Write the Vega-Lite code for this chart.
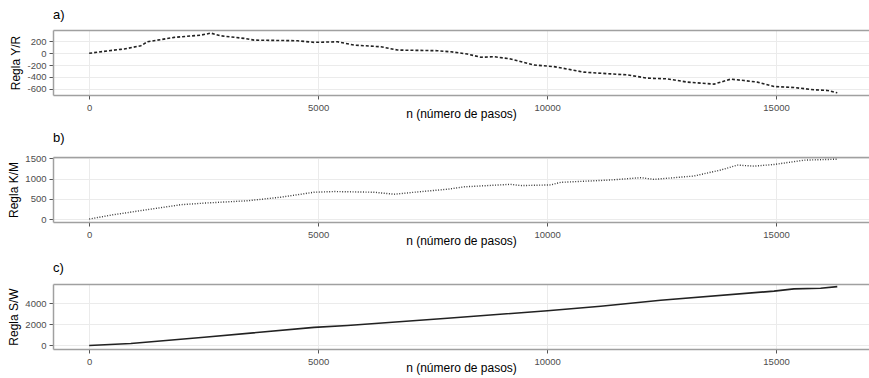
{
  "$schema": "https://vega.github.io/schema/vega-lite/v6.json",
  "padding": {"left": 7, "top": 8, "right": 0, "bottom": 2},
  "background": "white",
  "bounds": "flush",
  "spacing": 62,
  "datasets": {
    "yr": [
      {"n": 0, "value": 0}, {"n": 400, "value": 40}, {"n": 692, "value": 67}, {"n": 765, "value": 72},
      {"n": 1128, "value": 128}, {"n": 1275, "value": 195}, {"n": 1856, "value": 269}, {"n": 2438, "value": 307},
      {"n": 2657, "value": 341}, {"n": 2875, "value": 296}, {"n": 3384, "value": 252}, {"n": 3602, "value": 223},
      {"n": 4549, "value": 212}, {"n": 4912, "value": 185}, {"n": 5422, "value": 195}, {"n": 5785, "value": 139},
      {"n": 6368, "value": 111}, {"n": 6732, "value": 55}, {"n": 7606, "value": 44}, {"n": 7900, "value": 25},
      {"n": 8260, "value": -12}, {"n": 8551, "value": -67}, {"n": 8842, "value": -57}, {"n": 9206, "value": -96},
      {"n": 9715, "value": -197}, {"n": 10151, "value": -225}, {"n": 10806, "value": -319}, {"n": 11389, "value": -348},
      {"n": 11753, "value": -365}, {"n": 12190, "value": -420}, {"n": 12627, "value": -432}, {"n": 13063, "value": -487},
      {"n": 13645, "value": -521}, {"n": 14009, "value": -437}, {"n": 14300, "value": -460}, {"n": 14591, "value": -487},
      {"n": 14955, "value": -561}, {"n": 15391, "value": -578}, {"n": 15828, "value": -617}, {"n": 16119, "value": -628},
      {"n": 16337, "value": -667}
    ],
    "km": [
      {"n": 0, "value": 5}, {"n": 546, "value": 115}, {"n": 1275, "value": 237}, {"n": 2002, "value": 359},
      {"n": 2511, "value": 398}, {"n": 3458, "value": 456}, {"n": 4185, "value": 544}, {"n": 4912, "value": 666},
      {"n": 5348, "value": 683}, {"n": 6221, "value": 666}, {"n": 6658, "value": 617}, {"n": 7095, "value": 666},
      {"n": 7823, "value": 740}, {"n": 8200, "value": 800}, {"n": 9206, "value": 861}, {"n": 9424, "value": 830},
      {"n": 10079, "value": 847}, {"n": 10297, "value": 910}, {"n": 11389, "value": 968}, {"n": 12044, "value": 1025},
      {"n": 12334, "value": 983}, {"n": 13207, "value": 1066}, {"n": 13790, "value": 1213}, {"n": 14154, "value": 1335},
      {"n": 14518, "value": 1310}, {"n": 14955, "value": 1350}, {"n": 15610, "value": 1457}, {"n": 16337, "value": 1481}
    ],
    "sw": [
      {"n": 0, "value": 0}, {"n": 910, "value": 185}, {"n": 2511, "value": 778}, {"n": 4912, "value": 1704},
      {"n": 5641, "value": 1889}, {"n": 7823, "value": 2565}, {"n": 8114, "value": 2660}, {"n": 10007, "value": 3278},
      {"n": 11170, "value": 3704}, {"n": 12480, "value": 4260}, {"n": 14955, "value": 5130}, {"n": 15391, "value": 5343},
      {"n": 15973, "value": 5400}, {"n": 16337, "value": 5556}
    ]
  },
  "config": {
    "font": "Liberation Sans",
    "view": {"stroke": null},
    "title": {"anchor": "start", "frame": "group", "fontSize": 13, "fontWeight": "normal", "color": "#000", "offset": 8},
    "axis": {
      "gridColor": "#ebebeb", "gridWidth": 1,
      "domainColor": "#a0a0a0", "domainWidth": 1.5,
      "tickColor": "#555", "tickSize": 4,
      "labelFontSize": 9.5, "labelColor": "#4d4d4d", "labelPadding": 3,
      "titleFontSize": 12, "titleFontWeight": "normal", "titleColor": "#000"
    },
    "axisX": {"labelPadding": 3, "titlePadding": -3}
  },
  "vconcat": [
    {
      "width": 816, "height": 65,
      "title": {"text": "a)"},
      "data": {"name": "yr"},
      "layer": [
        {
          "mark": {"type": "line", "color": "#222", "strokeWidth": 1.6, "strokeDash": [3, 2]},
          "encoding": {
            "x": {"field": "n", "type": "quantitative", "scale": {"domain": [-790, 17030], "nice": false, "zero": false},
                  "axis": {"values": [0, 5000, 10000, 15000], "title": "n (número de pasos)", "format": "d"}},
            "y": {"field": "value", "type": "quantitative", "scale": {"domain": [-705, 394], "nice": false, "zero": false},
                  "axis": {"values": [-600, -400, -200, 0, 200], "title": "Regla Y/R", "titlePadding": 4,
                           "labelExpr": "datum.value < 0 ? '-' + abs(datum.value) : '' + datum.value"}}
          }
        },
        {
          "mark": {"type": "line", "opacity": 0},
          "encoding": {
            "x": {"field": "n", "type": "quantitative",
                  "axis": {"orient": "top", "values": [2500, 7500, 12500], "labels": false, "ticks": false, "title": null, "gridColor": "#f3f3f3", "gridWidth": 0.7}},
            "y": {"field": "value", "type": "quantitative",
                  "axis": {"orient": "right", "values": [-500, -300, -100, 100, 300], "labels": false, "ticks": false, "domain": false, "title": null, "gridColor": "#f3f3f3", "gridWidth": 0.7}}
          }
        }
      ],
      "resolve": {"axis": {"x": "independent", "y": "independent"}}
    },
    {
      "width": 816, "height": 65,
      "title": {"text": "b)"},
      "data": {"name": "km"},
      "layer": [
        {
          "mark": {"type": "line", "color": "#3a3a3a", "strokeWidth": 1.4, "strokeDash": [1, 1.6]},
          "encoding": {
            "x": {"field": "n", "type": "quantitative", "scale": {"domain": [-790, 17030], "nice": false, "zero": false},
                  "axis": {"values": [0, 5000, 10000, 15000], "title": "n (número de pasos)", "format": "d"}},
            "y": {"field": "value", "type": "quantitative", "scale": {"domain": [-68, 1535], "nice": false, "zero": false},
                  "axis": {"values": [0, 500, 1000, 1500], "title": "Regla K/M", "titlePadding": 4, "format": "d"}}
          }
        },
        {
          "mark": {"type": "line", "opacity": 0},
          "encoding": {
            "x": {"field": "n", "type": "quantitative",
                  "axis": {"orient": "top", "values": [2500, 7500, 12500], "labels": false, "ticks": false, "title": null, "gridColor": "#f3f3f3", "gridWidth": 0.7}},
            "y": {"field": "value", "type": "quantitative",
                  "axis": {"orient": "right", "values": [250, 750, 1250], "labels": false, "ticks": false, "domain": false, "title": null, "gridColor": "#f3f3f3", "gridWidth": 0.7}}
          }
        }
      ],
      "resolve": {"axis": {"x": "independent", "y": "independent"}}
    },
    {
      "width": 816, "height": 65,
      "title": {"text": "c)"},
      "data": {"name": "sw"},
      "layer": [
        {
          "mark": {"type": "line", "color": "#222", "strokeWidth": 1.6},
          "encoding": {
            "x": {"field": "n", "type": "quantitative", "scale": {"domain": [-790, 17030], "nice": false, "zero": false},
                  "axis": {"values": [0, 5000, 10000, 15000], "title": "n (número de pasos)", "format": "d"}},
            "y": {"field": "value", "type": "quantitative", "scale": {"domain": [-335, 5800], "nice": false, "zero": false},
                  "axis": {"values": [0, 2000, 4000], "title": "Regla S/W", "titlePadding": 4, "format": "d"}}
          }
        },
        {
          "mark": {"type": "line", "opacity": 0},
          "encoding": {
            "x": {"field": "n", "type": "quantitative",
                  "axis": {"orient": "top", "values": [2500, 7500, 12500], "labels": false, "ticks": false, "title": null, "gridColor": "#f3f3f3", "gridWidth": 0.7}},
            "y": {"field": "value", "type": "quantitative",
                  "axis": {"orient": "right", "values": [1000, 3000, 5000], "labels": false, "ticks": false, "domain": false, "title": null, "gridColor": "#f3f3f3", "gridWidth": 0.7}}
          }
        }
      ],
      "resolve": {"axis": {"x": "independent", "y": "independent"}}
    }
  ]
}
